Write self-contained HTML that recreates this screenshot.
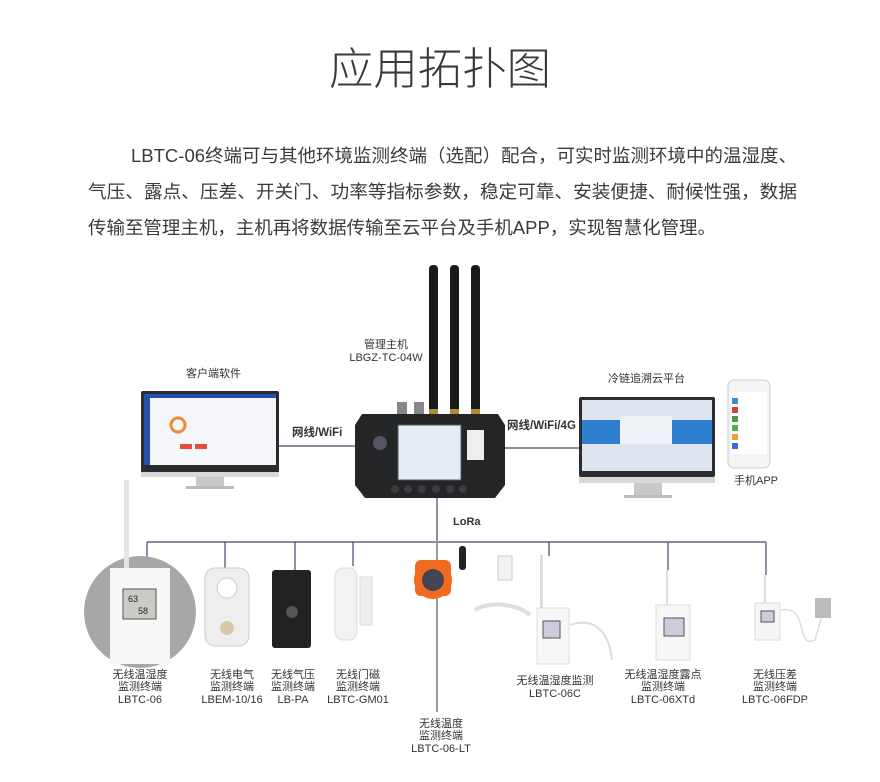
<!DOCTYPE html>
<html><head><meta charset="utf-8"><style>
html,body{margin:0;padding:0;background:#fff;}
svg{display:block;font-family:"Liberation Sans","Noto Sans CJK SC",sans-serif;}
</style></head><body>
<svg width="880" height="782" viewBox="0 0 880 782" xmlns="http://www.w3.org/2000/svg">
<text x="440" y="84" text-anchor="middle" font-size="44" fill="#3a3a3a" font-weight="300" textLength="222" lengthAdjust="spacingAndGlyphs">应用拓扑图</text>
<g font-size="18" fill="#3a3a3a">
<text x="131" y="162" textLength="666" lengthAdjust="spacingAndGlyphs">LBTC-06终端可与其他环境监测终端（选配）配合，可实时监测环境中的温湿度、</text>
<text x="88" y="198" textLength="709" lengthAdjust="spacingAndGlyphs">气压、露点、压差、开关门、功率等指标参数，稳定可靠、安装便捷、耐候性强，数据</text>
<text x="88" y="234" textLength="628" lengthAdjust="spacingAndGlyphs">传输至管理主机，主机再将数据传输至云平台及手机APP，实现智慧化管理。</text>
</g>
<g stroke="#3d4a66" stroke-width="1.2" fill="none">
<line x1="278" y1="446" x2="356" y2="446"/>
<line x1="503" y1="448" x2="580" y2="448"/>
<line x1="437" y1="498" x2="437" y2="542"/>
<line x1="147" y1="542" x2="766" y2="542"/>
<line x1="147" y1="542" x2="147" y2="560"/>
<line x1="225" y1="542" x2="225" y2="568"/>
<line x1="295" y1="542" x2="295" y2="570"/>
<line x1="353" y1="542" x2="353" y2="566"/>
<line x1="549" y1="542" x2="549" y2="556"/>
<line x1="668" y1="542" x2="668" y2="570"/>
<line x1="766" y1="542" x2="766" y2="575"/>
</g>
<g fill="#1a1a1a"><rect x="429" y="265" width="9" height="148" rx="4"/><rect x="450" y="265" width="9" height="148" rx="4"/><rect x="471" y="265" width="9" height="148" rx="4"/></g>
<g fill="#b08a3a"><rect x="429" y="409" width="9" height="5"/><rect x="450" y="409" width="9" height="5"/><rect x="471" y="409" width="9" height="5"/></g>
<rect x="397" y="402" width="10" height="12" fill="#888"/><rect x="414" y="402" width="10" height="12" fill="#888"/>
<path d="M362 414 L498 414 L505 425 L505 485 L495 498 L365 498 L355 485 L355 425 Z" fill="#232527"/>
<rect x="398" y="425" width="63" height="55" fill="#e4ecf4" stroke="#556" stroke-width="1"/>
<rect x="467" y="430" width="17" height="30" fill="#eee"/>
<circle cx="380" cy="443" r="7" fill="#556"/>
<g fill="#3a3c3e"><circle cx="395" cy="489" r="4"/><circle cx="408" cy="489" r="4"/><circle cx="422" cy="489" r="4"/><circle cx="436" cy="489" r="4"/><circle cx="450" cy="489" r="4"/><circle cx="463" cy="489" r="4"/></g>
<text x="386" y="348" text-anchor="middle" font-size="11" fill="#333">管理主机</text>
<text x="386" y="361" text-anchor="middle" font-size="11" fill="#333">LBGZ-TC-04W</text>
<text x="292" y="436" font-size="11.5" font-weight="bold" fill="#333">网线/WiFi</text>
<text x="507" y="429" font-size="11.5" font-weight="bold" fill="#333">网线/WiFi/4G</text>
<text x="453" y="525" font-size="11" font-weight="bold" fill="#333">LoRa</text>
<text x="186" y="377" font-size="11" fill="#333">客户端软件</text>
<rect x="141" y="391" width="138" height="82" rx="2" fill="#2a2c30"/>
<rect x="144" y="394" width="132" height="71" fill="#f4f6fa"/>
<rect x="144" y="394" width="6" height="71" fill="#2450b0"/>
<rect x="144" y="394" width="132" height="4" fill="#2450b0"/>
<circle cx="178" cy="425" r="7" fill="none" stroke="#f08a30" stroke-width="3"/>
<rect x="180" y="444" width="12" height="5" fill="#e84a3a"/><rect x="195" y="444" width="12" height="5" fill="#e84a3a"/>
<rect x="141" y="472" width="138" height="5" fill="#d8d8d8"/>
<rect x="196" y="477" width="28" height="10" fill="#c8c8c8"/><rect x="186" y="486" width="48" height="3" fill="#bbb"/>
<text x="608" y="382" font-size="11" fill="#333">冷链追溯云平台</text>
<rect x="579" y="397" width="136" height="80" rx="2" fill="#2a2c30"/>
<rect x="582" y="400" width="130" height="71" fill="#dde6ee"/>
<rect x="582" y="420" width="130" height="24" fill="#2f7fd0"/>
<rect x="620" y="416" width="52" height="28" fill="#eef2f6"/>
<rect x="579" y="477" width="136" height="6" fill="#d8d8d8"/>
<rect x="634" y="483" width="28" height="12" fill="#c8c8c8"/><rect x="624" y="495" width="48" height="3" fill="#bbb"/>
<rect x="728" y="380" width="42" height="88" rx="6" fill="#f4f4f4" stroke="#ccc"/>
<rect x="731" y="392" width="36" height="62" fill="#fff"/>
<g><rect x="732" y="398" width="6" height="6" fill="#3a8ad8"/><rect x="732" y="407" width="6" height="6" fill="#d84040"/><rect x="732" y="416" width="6" height="6" fill="#4a9a4a"/><rect x="732" y="425" width="6" height="6" fill="#50b050"/><rect x="732" y="434" width="6" height="6" fill="#f0a030"/><rect x="732" y="443" width="6" height="6" fill="#3a6ad8"/></g>
<text x="734" y="484" font-size="11" fill="#333">手机APP</text>
<circle cx="140" cy="612" r="56" fill="#a7a7a9"/>
<rect x="124" y="480" width="5" height="90" fill="#e4e4e4"/>
<rect x="110" y="568" width="60" height="96" fill="#f7f7f7"/>
<rect x="123" y="589" width="33" height="30" fill="#c9ccc4" stroke="#555"/>
<text x="128" y="602" font-size="9" fill="#222">63</text><text x="138" y="614" font-size="9" fill="#222">58</text>
<rect x="205" y="568" width="44" height="78" rx="10" fill="#eee" stroke="#ccc"/>
<circle cx="227" cy="588" r="10" fill="#fff" stroke="#ccc"/><circle cx="227" cy="628" r="7" fill="#d8c8a8"/>
<rect x="272" y="570" width="39" height="78" rx="3" fill="#222"/>
<circle cx="292" cy="612" r="6" fill="#555"/>
<rect x="335" y="568" width="22" height="72" rx="8" fill="#f2f2f2" stroke="#ddd"/>
<rect x="360" y="577" width="12" height="48" fill="#eee" stroke="#ddd"/>
<line x1="437" y1="540" x2="437" y2="712" stroke="#999" stroke-width="2"/>
<rect x="459" y="546" width="7" height="24" rx="3" fill="#222"/>
<circle cx="433" cy="580" r="19" fill="#f06a20"/><rect x="415" y="560" width="36" height="36" rx="6" fill="#f06a20"/>
<circle cx="433" cy="580" r="11" fill="#445"/>
<rect x="498" y="556" width="14" height="24" fill="#f2f2f2" stroke="#ccc"/>
<path d="M475 610 C490 600 520 605 530 615" stroke="#ddd" stroke-width="4" fill="none"/>
<rect x="540" y="555" width="3" height="55" fill="#ddd"/>
<rect x="537" y="608" width="32" height="56" fill="#f7f7f7" stroke="#ddd"/>
<rect x="543" y="621" width="17" height="17" fill="#ccd" stroke="#555"/>
<path d="M570 625 C600 615 610 640 612 660" stroke="#ddd" stroke-width="2" fill="none"/>
<rect x="666" y="570" width="2" height="38" fill="#ddd"/>
<rect x="656" y="605" width="34" height="55" fill="#f7f7f7" stroke="#ddd"/>
<rect x="664" y="618" width="20" height="18" fill="#ccd" stroke="#555"/>
<rect x="764" y="575" width="2" height="40" fill="#ddd"/>
<rect x="755" y="603" width="25" height="37" fill="#f5f5f5" stroke="#ddd"/>
<rect x="761" y="611" width="13" height="11" fill="#ccd" stroke="#555"/>
<path d="M781 610 C810 605 795 650 815 640 L822 615" stroke="#ddd" stroke-width="1.5" fill="none"/>
<rect x="815" y="598" width="16" height="20" fill="#bbb"/>
<g font-size="11" fill="#333" text-anchor="middle">
<text x="140" y="678">无线温湿度</text><text x="140" y="690">监测终端</text><text x="140" y="703">LBTC-06</text>
<text x="232" y="678">无线电气</text><text x="232" y="690">监测终端</text><text x="232" y="703">LBEM-10/16</text>
<text x="293" y="678">无线气压</text><text x="293" y="690">监测终端</text><text x="293" y="703">LB-PA</text>
<text x="358" y="678">无线门磁</text><text x="358" y="690">监测终端</text><text x="358" y="703">LBTC-GM01</text>
<text x="441" y="727">无线温度</text><text x="441" y="739">监测终端</text><text x="441" y="752">LBTC-06-LT</text>
<text x="555" y="684">无线温湿度监测</text><text x="555" y="697">LBTC-06C</text>
<text x="663" y="678">无线温湿度露点</text><text x="663" y="690">监测终端</text><text x="663" y="703">LBTC-06XTd</text>
<text x="775" y="678">无线压差</text><text x="775" y="690">监测终端</text><text x="775" y="703">LBTC-06FDP</text>
</g>
</svg>
</body></html>
